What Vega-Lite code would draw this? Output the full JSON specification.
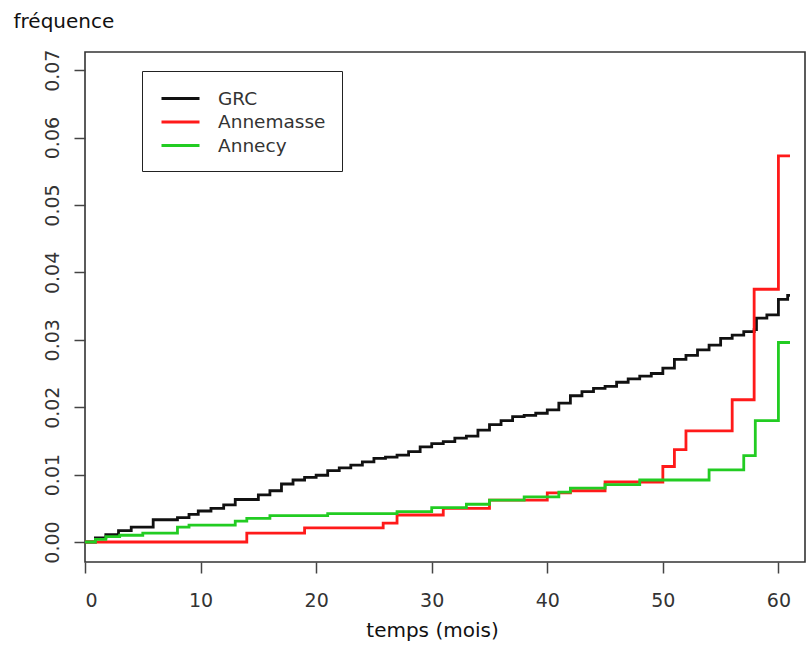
{
  "$schema": "https://vega.github.io/schema/vega-lite/v6.json",
  "width": 720,
  "height": 510,
  "autosize": "none",
  "padding": {"left": 85, "top": 52, "right": 2, "bottom": 86},
  "background": "white",
  "config": {
    "view": {"stroke": "#333", "strokeWidth": 1.6},
    "font": "DejaVu Sans"
  },
  "data": {"values": [
    {"serie":"GRC","t":0,"f":0},{"serie":"GRC","t":0.9,"f":0.0006},{"serie":"GRC","t":1.8,"f":0.0011},{"serie":"GRC","t":2.9,"f":0.0017},{"serie":"GRC","t":4,"f":0.0022},{"serie":"GRC","t":5.9,"f":0.0033},{"serie":"GRC","t":8,"f":0.0036},{"serie":"GRC","t":9,"f":0.0041},{"serie":"GRC","t":9.8,"f":0.0046},{"serie":"GRC","t":10.9,"f":0.005},{"serie":"GRC","t":12,"f":0.0055},{"serie":"GRC","t":13,"f":0.0063},{"serie":"GRC","t":15,"f":0.007},{"serie":"GRC","t":16,"f":0.0076},{"serie":"GRC","t":17,"f":0.0086},{"serie":"GRC","t":18,"f":0.0092},{"serie":"GRC","t":19,"f":0.0096},{"serie":"GRC","t":20,"f":0.0099},{"serie":"GRC","t":21,"f":0.0106},{"serie":"GRC","t":22,"f":0.011},{"serie":"GRC","t":23,"f":0.0114},{"serie":"GRC","t":24,"f":0.0119},{"serie":"GRC","t":25,"f":0.0124},{"serie":"GRC","t":26,"f":0.0126},{"serie":"GRC","t":27,"f":0.0129},{"serie":"GRC","t":28,"f":0.0134},{"serie":"GRC","t":29,"f":0.0141},{"serie":"GRC","t":30,"f":0.0146},{"serie":"GRC","t":31,"f":0.0149},{"serie":"GRC","t":32,"f":0.0154},{"serie":"GRC","t":33,"f":0.0157},{"serie":"GRC","t":34,"f":0.0166},{"serie":"GRC","t":35,"f":0.0174},{"serie":"GRC","t":36,"f":0.018},{"serie":"GRC","t":37,"f":0.0186},{"serie":"GRC","t":38,"f":0.0188},{"serie":"GRC","t":39,"f":0.0191},{"serie":"GRC","t":40,"f":0.0196},{"serie":"GRC","t":41,"f":0.0206},{"serie":"GRC","t":42,"f":0.0217},{"serie":"GRC","t":43,"f":0.0223},{"serie":"GRC","t":44,"f":0.0228},{"serie":"GRC","t":45,"f":0.0231},{"serie":"GRC","t":46,"f":0.0237},{"serie":"GRC","t":47,"f":0.0242},{"serie":"GRC","t":48,"f":0.0246},{"serie":"GRC","t":49,"f":0.025},{"serie":"GRC","t":50,"f":0.0258},{"serie":"GRC","t":51,"f":0.0271},{"serie":"GRC","t":52,"f":0.0277},{"serie":"GRC","t":53,"f":0.0285},{"serie":"GRC","t":54,"f":0.0292},{"serie":"GRC","t":55,"f":0.0302},{"serie":"GRC","t":56,"f":0.0307},{"serie":"GRC","t":57,"f":0.0312},{"serie":"GRC","t":57.9,"f":0.0315},{"serie":"GRC","t":58.1,"f":0.0332},{"serie":"GRC","t":59,"f":0.0337},{"serie":"GRC","t":60,"f":0.036},{"serie":"GRC","t":60.8,"f":0.0366},{"serie":"GRC","t":61,"f":0.0366},
    {"serie":"Annemasse","t":0,"f":0},{"serie":"Annemasse","t":14,"f":0.0013},{"serie":"Annemasse","t":19,"f":0.0021},{"serie":"Annemasse","t":25.8,"f":0.0028},{"serie":"Annemasse","t":27,"f":0.004},{"serie":"Annemasse","t":31,"f":0.005},{"serie":"Annemasse","t":35,"f":0.0062},{"serie":"Annemasse","t":40,"f":0.0073},{"serie":"Annemasse","t":42,"f":0.0076},{"serie":"Annemasse","t":45,"f":0.0089},{"serie":"Annemasse","t":50,"f":0.0112},{"serie":"Annemasse","t":51,"f":0.0137},{"serie":"Annemasse","t":52,"f":0.0165},{"serie":"Annemasse","t":56,"f":0.0211},{"serie":"Annemasse","t":57.9,"f":0.0375},{"serie":"Annemasse","t":60,"f":0.0573},{"serie":"Annemasse","t":61,"f":0.0573},
    {"serie":"Annecy","t":0,"f":0},{"serie":"Annecy","t":0.9,"f":0.0004},{"serie":"Annecy","t":1.8,"f":0.0008},{"serie":"Annecy","t":3,"f":0.001},{"serie":"Annecy","t":5,"f":0.0013},{"serie":"Annecy","t":8,"f":0.0022},{"serie":"Annecy","t":9,"f":0.0025},{"serie":"Annecy","t":13,"f":0.0031},{"serie":"Annecy","t":14,"f":0.0035},{"serie":"Annecy","t":16,"f":0.0039},{"serie":"Annecy","t":21,"f":0.0042},{"serie":"Annecy","t":27,"f":0.0045},{"serie":"Annecy","t":30,"f":0.0051},{"serie":"Annecy","t":33,"f":0.0056},{"serie":"Annecy","t":35,"f":0.0062},{"serie":"Annecy","t":38,"f":0.0067},{"serie":"Annecy","t":41,"f":0.0074},{"serie":"Annecy","t":42,"f":0.008},{"serie":"Annecy","t":45,"f":0.0085},{"serie":"Annecy","t":48,"f":0.0092},{"serie":"Annecy","t":54,"f":0.0107},{"serie":"Annecy","t":57,"f":0.0128},{"serie":"Annecy","t":58,"f":0.018},{"serie":"Annecy","t":60,"f":0.0296},{"serie":"Annecy","t":61,"f":0.0296}
  ]},
  "encoding": {
    "x": {
      "field": "t", "type": "quantitative",
      "scale": {"domain": [0, 62.3], "nice": false, "zero": false},
      "axis": {
        "values": [0, 10, 20, 30, 40, 50, 60],
        "grid": false, "domain": false,
        "tickSize": 11, "tickColor": "#444", "tickWidth": 1.5,
        "labelFontSize": 19, "labelPadding": 18, "labelColor": "#333", "labelFont": "DejaVu Sans",
        "title": "temps (mois)", "titleFontSize": 20, "titleFontWeight": "normal", "titleColor": "#111", "titleFont": "DejaVu Sans",
        "titleX": 347, "titleY": 74, "titleBaseline": "alphabetic", "titleAlign": "center"
      }
    },
    "y": {
      "field": "f", "type": "quantitative",
      "scale": {"domain": [-0.00297, 0.0727], "nice": false, "zero": false},
      "axis": {
        "values": [0, 0.01, 0.02, 0.03, 0.04, 0.05, 0.06, 0.07],
        "format": ".2f",
        "grid": false, "domain": false,
        "tickSize": 11, "tickColor": "#444", "tickWidth": 1.5,
        "labelAngle": -90, "labelFontSize": 19, "labelPadding": 12, "labelColor": "#333", "labelFont": "DejaVu Sans",
        "title": "fréquence", "titleAngle": 0, "titleFontSize": 20, "titleFontWeight": "normal", "titleColor": "#111", "titleFont": "DejaVu Sans",
        "titleX": -72, "titleY": -25, "titleAlign": "left", "titleBaseline": "alphabetic"
      }
    },
    "color": {
      "field": "serie", "type": "nominal",
      "scale": {"domain": ["GRC", "Annemasse", "Annecy"], "range": ["#111111", "#ff1a1a", "#22cc22"]},
      "legend": {
        "orient": "none", "legendX": 57, "legendY": 19, "title": null,
        "strokeColor": "#222", "fillColor": "white", "padding": 16,
        "symbolType": "M-1.9,0H1.9", "symbolSize": 400, "symbolStrokeWidth": 3, "symbolOffset": 11,
        "labelFontSize": 18.5, "labelFont": "DejaVu Sans", "labelColor": "#333", "labelOffset": 26, "rowPadding": 2.5
      }
    }
  },
  "layer": [
    {"transform": [{"filter": "datum.serie === 'GRC'"}], "mark": {"type": "line", "interpolate": "step-after", "strokeWidth": 2.8}},
    {"transform": [{"filter": "datum.serie === 'Annemasse'"}], "mark": {"type": "line", "interpolate": "step-after", "strokeWidth": 2.8}},
    {"transform": [{"filter": "datum.serie === 'Annecy'"}], "mark": {"type": "line", "interpolate": "step-after", "strokeWidth": 2.8}}
  ]
}
